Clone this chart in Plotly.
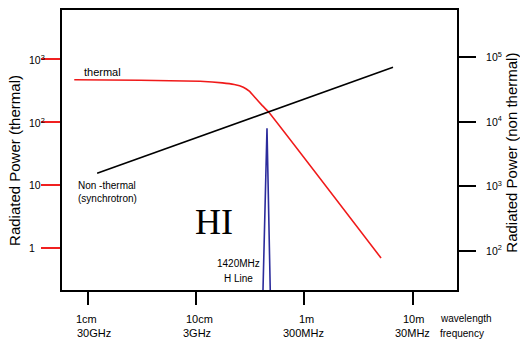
import numpy as np
import plotly.graph_objects as go

# Wavelength (cm) and radiated power, thermal spectrum (left axis)
thermal_wl = [0.75, 3.05, 10.9, 17.5, 22.5, 27.3, 31.0, 35.2, 40.9, 46.7, 510]
thermal_power = [470, 462, 445, 420, 395, 358, 310, 244, 183, 145, 0.70]

# Non-thermal (synchrotron) power law (right axis)
nonthermal_wl = [1.22, 658]
nonthermal_power = [1600, 70000]

# 1420 MHz hydrogen line profile (left axis)
hline_wl = [41.25, 45.15, 48.6]
hline_power = [0.15, 80, 0.15]

# Axis ticks
x_tickvals = [1, 10, 100, 1000]
x_wavelength_text = ["1cm", "10cm", "1m", "10m"]
x_frequency_text = ["30GHz", "3GHz", "300MHz", "30MHz"]
left_tickvals = [1, 10, 100, 1000]
left_ticktext = ["1", "10", "10<sup>2</sup>", "10<sup>3</sup>"]
right_tickvals = [100, 1000, 10000, 100000]
right_ticktext = ["10<sup>2</sup>", "10<sup>3</sup>", "10<sup>4</sup>", "10<sup>5</sup>"]

FONT = "Arial, Liberation Sans, sans-serif"

fig = go.Figure()
fig.add_trace(go.Scatter(x=thermal_wl, y=thermal_power, mode="lines",
                         line=dict(color="#f01a1a", width=1.6, shape="spline", smoothing=0.4),
                         yaxis="y", showlegend=False))
fig.add_trace(go.Scatter(x=hline_wl, y=hline_power, mode="lines",
                         line=dict(color="#2c2c9c", width=1.6),
                         yaxis="y", showlegend=False))
fig.add_trace(go.Scatter(x=nonthermal_wl, y=nonthermal_power, mode="lines",
                         line=dict(color="black", width=1.6),
                         yaxis="y2", showlegend=False))

annotations = []
# left tick labels, left aligned
for v, t in zip(left_tickvals, left_ticktext):
    annotations.append(dict(xref="paper", yref="y", x=-0.0886, y=np.log10(v), text=t,
                            xanchor="left", yanchor="middle", showarrow=False,
                            font=dict(family=FONT, size=10.5, color="black")))

# two-line wavelength / frequency labels under each x tick
wl_shift = [-1, 3, 2, 1]
fq_shift = [6, 1, -1, 0]
for v, w, f, sw, sf in zip(x_tickvals, x_wavelength_text, x_frequency_text, wl_shift, fq_shift):
    annotations.append(dict(xref="x", yref="paper", x=np.log10(v), y=-0.0968, text=w,
                            xanchor="center", yanchor="middle", showarrow=False, xshift=sw,
                            yshift=-2, font=dict(family=FONT, size=11, color="black")))
    annotations.append(dict(xref="x", yref="paper", x=np.log10(v), y=-0.1479, text=f,
                            xanchor="center", yanchor="middle", showarrow=False, xshift=sf,
                            yshift=-2, font=dict(family=FONT, size=11, color="black")))


def note(x, y, text, size, xanchor="left", family=FONT, angle=0, yshift=0):
    annotations.append(dict(xref="paper", yref="paper", x=x, y=y, text=text,
                            xanchor=xanchor, yanchor="middle", showarrow=False,
                            textangle=angle, yshift=yshift,
                            font=dict(family=family, size=size, color="black")))


note(-0.119, 0.4645, "Radiated Power (thermal)", 15, xanchor="center", angle=-90)
note(1.1392, 0.4904, "Radiated Power (non thermal)", 15, xanchor="center", angle=-90)
note(0.9519, -0.0957, "wavelength", 10, yshift=-2)
note(0.9519, -0.1479, "frequency", 10, yshift=-2)
note(0.0499, 0.7777, "thermal", 11)
note(0.0347, 0.3784, "Non -thermal", 10, yshift=-1)
note(0.0347, 0.3309, "(synchrotron)", 10, yshift=-1)
note(0.3843, 0.2411, "HI", 36, xanchor="center", family="Liberation Serif, Times New Roman, serif")
note(0.4481, 0.1004, "1420MHz", 10, xanchor="center", yshift=-2)
note(0.4481, 0.0496, "H Line", 10, xanchor="center", yshift=-2)

fig.update_layout(
    width=520, height=339,
    margin=dict(l=62, r=63, t=8, b=49),
    paper_bgcolor="white", plot_bgcolor="white",
    font=dict(family=FONT, size=11, color="black"),
    xaxis=dict(type="log", range=[-0.238, 3.409], showgrid=False, zeroline=False,
               showline=True, linecolor="black", linewidth=2, mirror=True,
               ticks="outside", ticklen=13, tickwidth=1.5, tickcolor="black",
               tickvals=x_tickvals, showticklabels=False),
    yaxis=dict(type="log", range=[-0.662, 3.779], showgrid=False, zeroline=False,
               showline=True, linecolor="black", linewidth=2, mirror=True,
               ticks="outside", ticklen=19, tickwidth=2, tickcolor="#f02020",
               tickvals=left_tickvals, showticklabels=False),
    yaxis2=dict(type="log", range=[1.395, 5.734], overlaying="y", side="right",
                showgrid=False, zeroline=False, showline=False,
                ticks="outside", ticklen=18, tickwidth=1.5, tickcolor="black",
                tickvals=right_tickvals, ticktext=right_ticktext,
                ticklabelstandoff=8,
                tickfont=dict(family=FONT, size=10.5, color="black")),
    annotations=annotations,
)

fig.write_html("out.html")
